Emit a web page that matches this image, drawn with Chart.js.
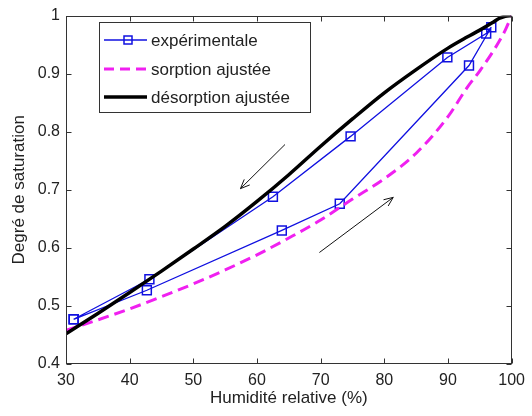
<!DOCTYPE html>
<html>
<head>
<meta charset="utf-8">
<script src="https://cdn.jsdelivr.net/npm/chart.js@4/dist/chart.umd.min.js"></script>
<style>
html, body { margin: 0; padding: 0; background: #fff; }
</style>
</head>
<body>
<canvas id="chart" width="532" height="416"></canvas>
<script>
// données
const rhExp = [31.2, 42.7, 63.9, 73.0, 93.3, 96.8, 96.0, 89.9, 74.7, 62.5, 43.1, 31.2];
const satExp = [0.477, 0.527, 0.630, 0.676, 0.914, 0.980, 0.969, 0.928, 0.792, 0.688, 0.546, 0.477];

const rhSorp = [30, 35, 40, 45, 50, 55, 60, 65, 70, 75, 80, 85, 90, 93, 95, 97, 98, 99, 100];
const satSorp = [0.458, 0.476, 0.495, 0.516, 0.538, 0.562, 0.588, 0.617, 0.648, 0.684, 0.719, 0.763, 0.826, 0.876, 0.905, 0.937, 0.955, 0.975, 1.0];

const rhDes = [30, 35, 40, 45, 50, 55, 60, 65, 70, 75, 80, 85, 90, 93, 95, 97, 98, 99, 100];
const satDes = [0.452, 0.487, 0.523, 0.560, 0.598, 0.637, 0.680, 0.726, 0.775, 0.822, 0.867, 0.907, 0.944, 0.963, 0.975, 0.988, 0.995, 0.999, 1.0];

const xTicks = [30, 40, 50, 60, 70, 80, 90, 100];
const yTicks = [0.4, 0.5, 0.6, 0.7, 0.8, 0.9, 1];

const labels = ['expérimentale', 'sorption ajustée', 'désorption ajustée'];

// flèches (début -> pointe) en coordonnées des axes
const arrowDes = [[64.4, 0.778], [57.4, 0.702]];
const arrowSorp = [[69.8, 0.592], [81.4, 0.687]];

const FONT = '"Liberation Sans", Arial, Helvetica, sans-serif';
const TXT = '#222';

function pts(xs, ys) {
  return xs.map((v, i) => ({ x: v, y: ys[i] }));
}

const frame = {
  id: 'frame',
  afterDatasetsDraw(chart) {
    const { ctx, chartArea: a, scales: { x, y } } = chart;
    ctx.save();
    ctx.strokeStyle = '#333';
    ctx.lineWidth = 1;
    const L = Math.round(a.left) + 0.5, R = Math.round(a.right) - 0.5;
    const T = Math.round(a.top) + 0.5, B = Math.round(a.bottom) - 0.5;
    ctx.strokeRect(L, T, R - L, B - T);
    ctx.beginPath();
    xTicks.forEach(v => {
      const px = Math.round(x.getPixelForValue(v)) + 0.5;
      ctx.moveTo(px, B); ctx.lineTo(px, B - 5);
      ctx.moveTo(px, T); ctx.lineTo(px, T + 5);
    });
    yTicks.forEach(v => {
      const py = Math.round(y.getPixelForValue(v)) + 0.5;
      ctx.moveTo(L, py); ctx.lineTo(L + 5, py);
      ctx.moveTo(R, py); ctx.lineTo(R - 5, py);
    });
    ctx.stroke();

    // flèches
    ctx.strokeStyle = '#111';
    ctx.lineWidth = 1;
    [arrowDes, arrowSorp].forEach(ar => {
      const x0 = x.getPixelForValue(ar[0][0]), y0 = y.getPixelForValue(ar[0][1]);
      const x1 = x.getPixelForValue(ar[1][0]), y1 = y.getPixelForValue(ar[1][1]);
      const ang = Math.atan2(y1 - y0, x1 - x0);
      ctx.beginPath();
      ctx.moveTo(x0, y0); ctx.lineTo(x1, y1);
      ctx.moveTo(x1 - 10 * Math.cos(ang - 0.4), y1 - 10 * Math.sin(ang - 0.4));
      ctx.lineTo(x1, y1);
      ctx.lineTo(x1 - 10 * Math.cos(ang + 0.4), y1 - 10 * Math.sin(ang + 0.4));
      ctx.stroke();
    });
    ctx.restore();
  },
  afterDraw(chart) {
    const { ctx } = chart;
    ctx.save();
    ctx.fillStyle = '#fff';
    ctx.fillRect(99, 22, 211, 90);
    ctx.strokeStyle = '#333';
    ctx.lineWidth = 1;
    ctx.strokeRect(99.5, 22.5, 211, 90);
    const rows = [40, 69, 97];
    // expérimentale
    ctx.strokeStyle = '#1010e0';
    ctx.lineWidth = 1.3;
    ctx.beginPath(); ctx.moveTo(104, rows[0]); ctx.lineTo(147, rows[0]); ctx.stroke();
    ctx.lineWidth = 1.5;
    ctx.strokeRect(124, rows[0] - 4, 8, 8);
    // sorption
    ctx.strokeStyle = '#f020f0';
    ctx.lineWidth = 3;
    ctx.setLineDash([10, 6]);
    ctx.beginPath(); ctx.moveTo(104, rows[1]); ctx.lineTo(147, rows[1]); ctx.stroke();
    ctx.setLineDash([]);
    // désorption
    ctx.strokeStyle = '#000';
    ctx.lineWidth = 3.5;
    ctx.beginPath(); ctx.moveTo(104, rows[2]); ctx.lineTo(147, rows[2]); ctx.stroke();

    ctx.fillStyle = TXT;
    ctx.font = '17px ' + FONT;
    ctx.textBaseline = 'middle';
    labels.forEach((t, i) => ctx.fillText(t, 151, rows[i] + 1));
    ctx.restore();
  }
};

new Chart(document.getElementById('chart'), {
  type: 'scatter',
  data: {
    datasets: [
      {
        label: labels[2],
        data: pts(rhDes, satDes),
        showLine: true,
        borderColor: '#000',
        borderWidth: 3.5,
        pointRadius: 0,
        cubicInterpolationMode: 'monotone'
      },
      {
        label: labels[1],
        data: pts(rhSorp, satSorp),
        showLine: true,
        borderColor: '#f020f0',
        borderWidth: 3,
        borderDash: [11, 6],
        pointRadius: 0,
        cubicInterpolationMode: 'monotone'
      },
      {
        label: labels[0],
        data: pts(rhExp, satExp),
        showLine: true,
        borderColor: '#1010e0',
        borderWidth: 1.3,
        pointStyle: 'rect',
        pointRadius: 6.3,
        pointBorderWidth: 1.5,
        pointBorderColor: '#1010e0',
        pointBackgroundColor: 'rgba(0,0,0,0)',
        tension: 0
      }
    ]
  },
  options: {
    responsive: false,
    animation: false,
    layout: { padding: { top: 14, right: 17, left: 0, bottom: 0 } },
    plugins: { legend: { display: false }, tooltip: { enabled: false } },
    scales: {
      x: {
        type: 'linear',
        min: 30, max: 100,
        afterBuildTicks: s => { s.ticks = xTicks.map(v => ({ value: v })); },
        afterFit: s => { s.height = 52; },
        grid: { display: false, drawTicks: false },
        border: { display: false },
        ticks: { color: TXT, font: { family: FONT, size: 16 }, padding: 7, maxRotation: 0 },
        title: { display: true, text: 'Humidité relative (%)', color: TXT,
                 font: { family: FONT, size: 17 }, padding: { top: 0, bottom: 7 } }
      },
      y: {
        type: 'linear',
        min: 0.4, max: 1,
        afterBuildTicks: s => { s.ticks = yTicks.map(v => ({ value: v })); },
        afterFit: s => { s.width = 66; },
        grid: { display: false, drawTicks: false },
        border: { display: false },
        ticks: { color: TXT, font: { family: FONT, size: 16 }, padding: 6,
                 callback: v => String(v) },
        title: { display: true, text: 'Degré de saturation', color: TXT,
                 font: { family: FONT, size: 17 }, padding: { top: 9, bottom: 0 } }
      }
    }
  },
  plugins: [frame]
});
</script>
</body>
</html>
